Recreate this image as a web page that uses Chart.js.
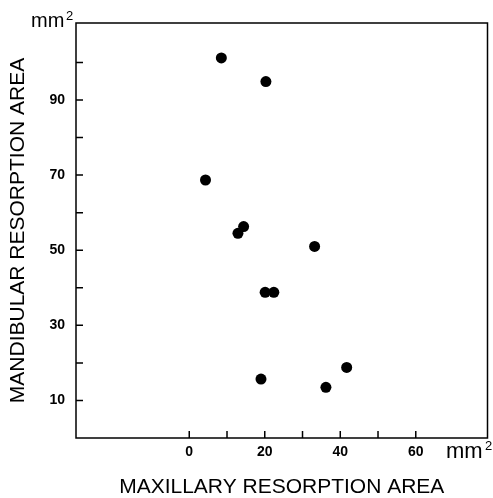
<!DOCTYPE html>
<html>
<head>
<meta charset="utf-8">
<script src="https://cdn.jsdelivr.net/npm/chart.js@4/dist/chart.umd.min.js"></script>
<style>
  body { margin: 0; background: #fff; }
  #wrap { width: 493px; height: 498px; }
</style>
</head>
<body>
<div id="wrap"><canvas id="scatterChart"></canvas></div>
<script>
// maxillary vs mandibular resorption area, mm2
const maxillary = [8.5, 20.3, 4.3, 14.4, 12.9, 33.2, 20.1, 22.4, 19.0, 36.2, 41.7];
const mandibular = [101.2, 94.9, 68.7, 56.3, 54.5, 51.0, 38.8, 38.8, 15.7, 13.5, 18.8];

const xTickLabels = [0, 20, 40, 60];
const yTickLabels = [10, 30, 50, 70, 90];
const xTickMarks = [0, 10, 20, 30, 40, 50, 60];
const yTickMarks = [10, 20, 30, 40, 50, 60, 70, 80, 90, 100];

const points = maxillary.map((x, i) => ({ x: x, y: mandibular[i] }));

// frame, inward tick marks and the mm2 units
const framePlugin = {
    id: 'frame',
    afterDraw(chart) {
        const ctx = chart.ctx;
        const a = chart.chartArea;
        const xs = chart.scales.x;
        const ys = chart.scales.y;
        ctx.save();
        ctx.strokeStyle = '#000';
        ctx.lineWidth = 1.5;
        ctx.strokeRect(a.left, a.top, a.right - a.left, a.bottom - a.top);
        ctx.beginPath();
        xTickMarks.forEach(v => {
            const px = xs.getPixelForValue(v);
            ctx.moveTo(px, a.bottom);
            ctx.lineTo(px, a.bottom - 7);
        });
        yTickMarks.forEach(v => {
            const py = ys.getPixelForValue(v);
            ctx.moveTo(a.left, py);
            ctx.lineTo(a.left + 7, py);
        });
        ctx.stroke();

        ctx.fillStyle = '#000';
        ctx.textBaseline = 'alphabetic';
        ctx.textAlign = 'left';
        ctx.font = '20px "Liberation Sans", Arial, sans-serif';
        ctx.fillText('mm', 31, 27);
        ctx.font = '13px "Liberation Sans", Arial, sans-serif';
        ctx.fillText('2', 66, 20);
        ctx.font = '22px "Liberation Sans", Arial, sans-serif';
        ctx.fillText('mm', 446, 458);
        ctx.font = '13px "Liberation Sans", Arial, sans-serif';
        ctx.fillText('2', 485, 450);
        ctx.restore();
    }
};

const ctx = document.getElementById('scatterChart');

new Chart(ctx, {
    type: 'scatter',
    data: {
        datasets: [{
            data: points,
            backgroundColor: '#000',
            borderWidth: 0,
            pointRadius: 5.5,
            pointHoverRadius: 5.5
        }]
    },
    options: {
        responsive: true,
        maintainAspectRatio: false,
        animation: false,
        layout: { padding: { top: 23, right: 1, left: 0, bottom: 0 } },
        plugins: {
            legend: { display: false },
            tooltip: { enabled: false }
        },
        scales: {
            x: {
                type: 'linear',
                min: -30,
                max: 79,
                afterBuildTicks: s => { s.ticks = xTickLabels.map(v => ({ value: v })); },
                afterFit: s => { s.height = 60; },
                grid: { display: false, drawTicks: false },
                border: { display: false },
                ticks: {
                    color: '#000',
                    padding: 6,
                    font: { family: '"Liberation Sans", Arial, sans-serif', size: 14, weight: 'bold' }
                },
                title: {
                    display: true,
                    text: 'MAXILLARY RESORPTION AREA',
                    color: '#000',
                    padding: { top: 0, bottom: 0 },
                    font: { family: '"Liberation Sans", Arial, sans-serif', size: 21, lineHeight: 1 }
                }
            },
            y: {
                type: 'linear',
                min: 0,
                max: 110.5,
                afterBuildTicks: s => { s.ticks = yTickLabels.map(v => ({ value: v })); },
                afterFit: s => { s.width = 76; },
                grid: { display: false, drawTicks: false },
                border: { display: false },
                ticks: {
                    color: '#000',
                    padding: 11,
                    font: { family: '"Liberation Sans", Arial, sans-serif', size: 14, weight: 'bold' }
                },
                title: {
                    display: true,
                    text: 'MANDIBULAR RESORPTION AREA',
                    color: '#000',
                    padding: { top: 7.5, bottom: 0 },
                    font: { family: '"Liberation Sans", Arial, sans-serif', size: 21, lineHeight: 1 }
                }
            }
        }
    },
    plugins: [framePlugin]
});
</script>
</body>
</html>
